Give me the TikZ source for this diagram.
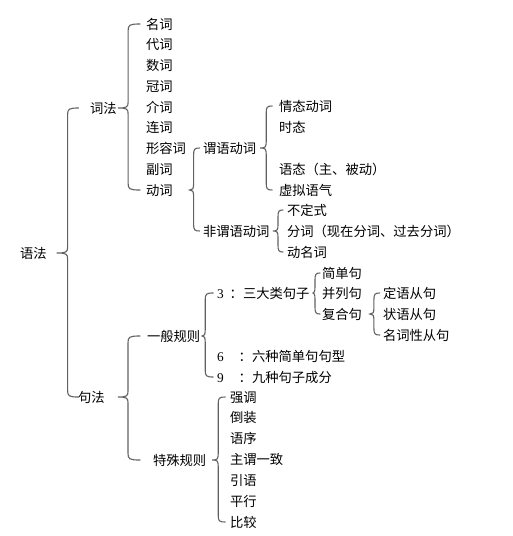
\documentclass[tikz,border=0pt]{standalone}
\usepackage{fontspec}
\setmainfont{Noto Sans CJK SC}
\newfontfamily\digfont{Liberation Serif}
\usetikzlibrary{calc}
\tikzset{
  lbl/.style={anchor=west,inner sep=0pt,outer sep=0pt,text height=11.7pt,text depth=1.6pt,font=\fontsize{13.3}{16}\selectfont},
  dig/.style={lbl,font=\fontsize{13.3}{16}\selectfont\digfont},
  brcline/.style={draw=black!62,line width=1.1pt,line cap=round}
}
% #1 parent, #2 first child, #3 last child, #4 tip gap, #5 tip-to-spine, #6 hook length
\newcommand\brc[6]{%
  \coordinate (tipc) at ([xshift=#4pt]#1.east);
  \draw[brcline] let \p1=(tipc), \p2=(#2.west), \p3=(#3.west), \p4=($(tipc)+(#5pt,0pt)$) in
    (\x4+#6pt,\y2) .. controls (\x4+1pt,\y2) and (\x4,\y2-1pt) .. (\x4,\y2-7pt)
    -- (\x4,\y1+6pt) .. controls (\x4,\y1+1pt) and (\x4-1pt,\y1) .. (\x1,\y1)
    .. controls (\x4-1pt,\y1) and (\x4,\y1-1pt) .. (\x4,\y1-6pt)
    -- (\x4,\y3+7pt) .. controls (\x4,\y3+1pt) and (\x4+1pt,\y3) .. (\x4+#6pt,\y3);
}
\begin{document}
\begin{tikzpicture}[x=1pt,y=-1pt]
\useasboundingbox[fill=white] (0,0) rectangle (512,536);
% root
\node[lbl] (yufa) at (20,253) {语法};
\node[lbl] (cifa) at (90,108) {词法};
\node[lbl] (jufa) at (78,397) {句法};
% word classes
\node[lbl] (w1) at (146,24) {名词};
\node[lbl] (w2) at (146,44.75) {代词};
\node[lbl] (w3) at (146,65.5) {数词};
\node[lbl] (w4) at (146,86.25) {冠词};
\node[lbl] (w5) at (146,107) {介词};
\node[lbl] (w6) at (146,127.75) {连词};
\node[lbl] (w7) at (146,148.5) {形容词};
\node[lbl] (w8) at (146,169.25) {副词};
\node[lbl] (w9) at (146,190) {动词};
% verbs
\node[lbl] (wy) at (203,148) {谓语动词};
\node[lbl] (fwy) at (203,231) {非谓语动词};
\node[lbl] (p1) at (279,106) {情态动词};
\node[lbl] (p2) at (279,127) {时态};
\node[lbl] (p3) at (279,169) {语态（主、被动）};
\node[lbl] (p4) at (279,190) {虚拟语气};
\node[lbl] (n1) at (287,210) {不定式};
\node[lbl] (n2) at (287,231) {分词（现在分词、过去分词）};
\node[lbl] (n3) at (287,252) {动名词};
% syntax
\node[lbl] (yb) at (147,336) {一般规则};
\node[lbl] (ts) at (153,460) {特殊规则};
\node[dig] (g3) at (217,293) {3};
\node[lbl] (g3t) at (229.7,293) {：三大类句子};
\node[dig] (g6) at (217,356) {6};
\node[lbl] (g6t) at (238.7,356) {：六种简单句句型};
\node[dig] (g9) at (217,377) {9};
\node[lbl] (g9t) at (238.7,377) {：九种句子成分};
\node[lbl] (s1) at (322,273) {简单句};
\node[lbl] (s2) at (322,293) {并列句};
\node[lbl] (s3) at (322,314) {复合句};
\node[lbl] (c1) at (383,293) {定语从句};
\node[lbl] (c2) at (383,314) {状语从句};
\node[lbl] (c3) at (383,335) {名词性从句};
\node[lbl] (t1) at (230,397) {强调};
\node[lbl] (t2) at (230,417.8) {倒装};
\node[lbl] (t3) at (230,438.7) {语序};
\node[lbl] (t4) at (230,459.5) {主谓一致};
\node[lbl] (t5) at (230,480.3) {引语};
\node[lbl] (t6) at (230,501.2) {平行};
\node[lbl] (t7) at (230,522) {比较};
% braces
\brc{yufa}{cifa}{jufa}{10}{11}{11}
\brc{cifa}{w1}{w9}{1.5}{10}{12}
\brc{w9}{wy}{fwy}{17}{4}{6}
\brc{wy}{p1}{p4}{4}{6}{6}
\brc{fwy}{n1}{n3}{3.5}{5}{5}
\brc{jufa}{yb}{ts}{13.4}{10}{12}
\brc{yb}{g3}{g9}{2}{3}{8}
\brc{g3t}{s1}{s3}{3.5}{2}{5}
\brc{s3}{c1}{c3}{8}{4}{6}
\brc{ts}{t1}{t7}{6}{6}{7}
\end{tikzpicture}
\end{document}
